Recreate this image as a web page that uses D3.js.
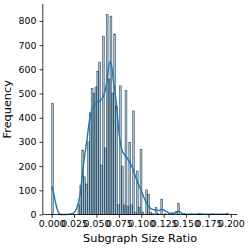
<!DOCTYPE html>
<html>
<head>
<meta charset="utf-8">
<script src="https://cdn.jsdelivr.net/npm/d3@7"></script>
<style>
  body { margin: 0; background: #fff; }
  svg { display: block; font-family: "DejaVu Sans", sans-serif; }
</style>
</head>
<body>
<svg id="chart" width="249" height="248"></svg>
<script>
// --- Histogram counts (bin width 0.0021, starting at 0)
const binWidth = 0.0021;
const counts = [
  460, 0, 0, 0, 0, 0, 0, 0, 0, 0,
  0, 0, 0, 0, 40, 120, 266, 156, 126, 300,
  420, 522, 500, 527, 590, 630, 204, 737, 275, 827,
  560, 820, 502, 746, 446, 40, 532, 200, 40, 512,
  35, 297, 40, 428, 10, 180, 30, 270, 10, 0,
  102, 84, 10, 5, 0, 29, 5, 0, 63, 0,
  3, 0, 4, 0, 3, 0, 12, 46, 0, 0,
  3, 0, 0, 0, 2, 0, 0, 0, 5, 0,
  0, 0, 0, 0, 0, 2, 0, 0, 0, 0,
  0, 0, 0, 4
];

// --- KDE curve (ratio, scaled count)
const kdeX = [0, 0.0018, 0.0037, 0.0056, 0.0074, 0.0093, 0.0115, 0.0148, 0.0171, 0.0204,
  0.0241, 0.0279, 0.0316, 0.0353, 0.0391, 0.0427, 0.0464, 0.0502, 0.0539, 0.0576,
  0.0614, 0.0632, 0.0651, 0.0670, 0.0688, 0.0725, 0.0751, 0.0781, 0.0818, 0.0852,
  0.0893, 0.0949, 0.1004, 0.1041, 0.1078, 0.1116, 0.1153, 0.1190, 0.1228, 0.1283,
  0.1320, 0.1357, 0.1413, 0.1443, 0.1469, 0.1544, 0.1655, 0.1767, 0.1968];
const kdeY = [118, 95, 60, 30, 10, 2, 0, 0, 0, 2,
  5, 25, 80, 200, 300, 400, 445, 462, 470, 487,
  545, 600, 632, 615, 556, 450, 340, 270, 245, 228,
  200, 143, 94, 60, 35, 22, 19, 16, 21, 12,
  5, 5, 14, 8, 2, 1, 2, 1, 1];

const xTicks = [0, 0.025, 0.05, 0.075, 0.1, 0.125, 0.15, 0.175, 0.2];
const yTicks = [0, 100, 200, 300, 400, 500, 600, 700, 800];

const svg = d3.select("#chart");
const margin = { left: 42.8, right: 11.6, top: 4, bottom: 33.5 };
const width = 249, height = 248;

const x = d3.scaleLinear()
  .domain([-0.00987, 0.20727])
  .range([margin.left, width - margin.right]);
const y = d3.scaleLinear()
  .domain([0, 870])
  .range([height - margin.bottom, margin.top]);

// --- Barres
svg.append("g")
  .selectAll("rect")
  .data(counts.map((c, i) => ({ x0: i * binWidth, x1: (i + 1) * binWidth, c })).filter(d => d.c > 0))
  .join("rect")
  .attr("x", d => x(d.x0))
  .attr("width", d => x(d.x1) - x(d.x0))
  .attr("y", d => y(d.c))
  .attr("height", d => y(0) - y(d.c))
  .attr("fill", "#1f77b4")
  .attr("fill-opacity", 0.45)
  .attr("stroke", "#000")
  .attr("stroke-opacity", 0.75)
  .attr("stroke-width", 0.5);

// --- Courbe KDE
const line = d3.line()
  .x(d => x(d[0]))
  .y(d => y(d[1]))
  .curve(d3.curveMonotoneX);
svg.append("path")
  .datum(kdeX.map((v, i) => [v, kdeY[i]]))
  .attr("d", line)
  .attr("fill", "none")
  .attr("stroke", "#1f77b4")
  .attr("stroke-width", 1.4);

// --- Axes
const xAxis = svg.append("g")
  .attr("transform", `translate(0,${y(0)})`)
  .call(d3.axisBottom(x).tickValues(xTicks).tickFormat(d3.format(".3f")).tickSizeOuter(0).tickSize(3.3).tickPadding(3));
const yAxis = svg.append("g")
  .attr("transform", `translate(${margin.left},0)`)
  .call(d3.axisLeft(y).tickValues(yTicks).tickSizeOuter(0).tickSize(3.3).tickPadding(3));

[xAxis, yAxis].forEach(g => {
  g.select(".domain").attr("stroke", "#000").attr("stroke-width", 0.8);
  g.selectAll(".tick line").attr("stroke", "#000").attr("stroke-width", 0.8);
  g.selectAll(".tick text").attr("fill", "#000").attr("font-size", 9.4)
    .attr("font-family", "DejaVu Sans");
});
xAxis.select(".domain").attr("d", `M${margin.left},0H${width - margin.right}`);
yAxis.select(".domain").attr("d", `M0,${y(0)}V${margin.top}`);

// --- Titres des axes
svg.append("text")
  .attr("x", (margin.left + width - margin.right) / 2)
  .attr("y", 242)
  .attr("text-anchor", "middle")
  .attr("font-size", 11.3)
  .text("Subgraph Size Ratio");
svg.append("text")
  .attr("transform", `translate(10.5,${(y(0) + margin.top) / 2}) rotate(-90)`)
  .attr("text-anchor", "middle")
  .attr("font-size", 11.3)
  .text("Frequency");
</script>
</body>
</html>
